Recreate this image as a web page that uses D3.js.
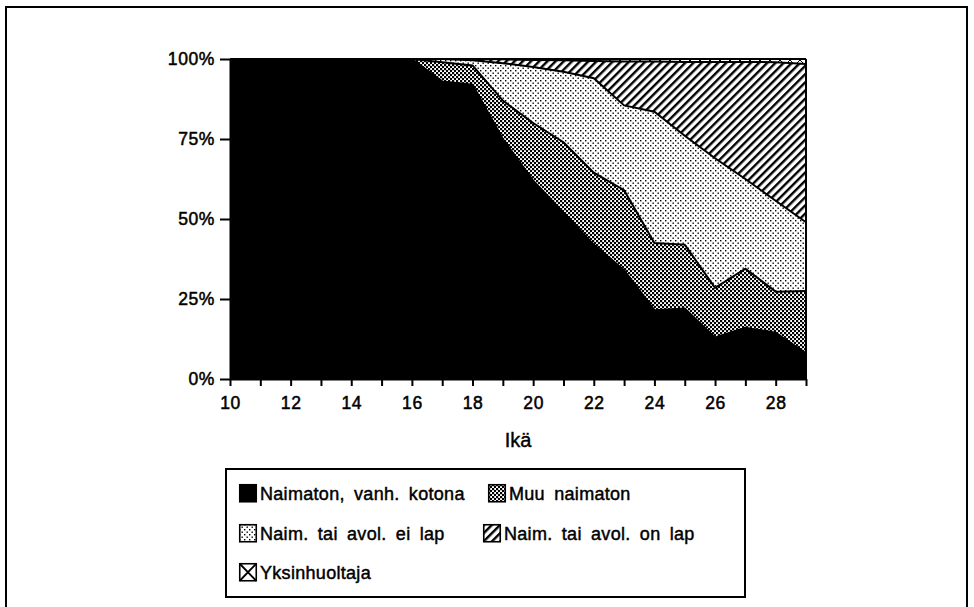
<!DOCTYPE html>
<html><head><meta charset="utf-8">
<script src="https://cdn.jsdelivr.net/npm/d3@7"></script>
<style>
html,body{margin:0;padding:0;background:#fff;}
svg{display:block;font-family:"Liberation Sans",Arial,Helvetica,sans-serif;}
</style></head>
<body>
<svg id="chart" width="974" height="607"></svg>
<script>
// ---- data ----
const ages = [10,11,12,13,14,15,16,17,18,19,20,21,22,23,24,25,26,27,28,29];
const kotona = [100,100,100,99.6,100,100,100,93,92,75,62,52,42,34,21.5,22,13,16,14.5,8];
const muu    = [0,0,0,0,0,0,0,6,6,12,18,22,22.5,25,21,20,15.5,18.5,12.8,19.5];
const eiLap  = [0,0,0,0.4,0,0,0,1,1.6,11.7,17.5,22,29.5,26.5,41,34,40.5,28,28.4,21.5];
const onLap  = [0,0,0,0,0,0,0,0,0.4,1.2,2.2,3.6,5.4,13.7,15.7,23.1,30.1,36.6,43.3,49.4];
const yksin  = [0,0,0,0,0,0,0,0,0,0.1,0.3,0.4,0.6,0.8,0.8,0.9,0.9,0.9,1.0,1.6];
const seriesNames = ["Naimaton, vanh. kotona","Muu naimaton","Naim. tai avol. ei lap","Naim. tai avol. on lap","Yksinhuoltaja"];
const yTicks = [0,25,50,75,100];
const xLabelTicks = [10,12,14,16,18,20,22,24,26,28];
const xTitle = "Ikä";

const keys = ["kotona","muu","eiLap","onLap","yksin"];
const cols = [kotona,muu,eiLap,onLap,yksin];
const table = ages.map((a,i)=>{const r={age:a}; keys.forEach((k,j)=>r[k]=cols[j][i]); return r;});

const svg = d3.select("#chart");
const defs = svg.append("defs");

// patterns
const pChk = defs.append("pattern").attr("id","pChk").attr("patternUnits","userSpaceOnUse").attr("width",4).attr("height",4);
pChk.append("rect").attr("width",4).attr("height",4).attr("fill","#fff");
pChk.append("rect").attr("x",0).attr("y",0).attr("width",2.2).attr("height",2.2).attr("fill","#000");
pChk.append("rect").attr("x",2).attr("y",2).attr("width",2.2).attr("height",2.2).attr("fill","#000");

const pDot = defs.append("pattern").attr("id","pDot").attr("patternUnits","userSpaceOnUse").attr("width",5).attr("height",5);
pDot.append("rect").attr("width",5).attr("height",5).attr("fill","#fff");
pDot.append("rect").attr("x",0).attr("y",0).attr("width",1.4).attr("height",1.4).attr("fill","#000");
pDot.append("rect").attr("x",2.5).attr("y",2.5).attr("width",1.4).attr("height",1.4).attr("fill","#000");

const pHatch = defs.append("pattern").attr("id","pHatch").attr("patternUnits","userSpaceOnUse")
  .attr("width",5.8).attr("height",5.8).attr("patternTransform","rotate(45)");
pHatch.append("rect").attr("width",5.8).attr("height",5.8).attr("fill","#fff");
pHatch.append("rect").attr("x",0).attr("y",0).attr("width",2.4).attr("height",5.8).attr("fill","#000");

const pCross = defs.append("pattern").attr("id","pCross").attr("patternUnits","userSpaceOnUse").attr("width",10).attr("height",10);
pCross.append("rect").attr("width",10).attr("height",10).attr("fill","#fff");
pCross.append("path").attr("d","M0,0L10,10M10,0L0,10").attr("stroke","#000").attr("stroke-width",1);

const fills = ["#000","url(#pChk)","url(#pDot)","url(#pHatch)","url(#pCross)"];

// frame
svg.append("rect").attr("x",6).attr("y",7).attr("width",961).attr("height",640)
  .attr("fill","none").attr("stroke","#000").attr("stroke-width",2);

const x = d3.scaleLinear().domain([10,29]).range([230,806]);
const y = d3.scaleLinear().domain([0,100]).range([379,59]);

const stack = d3.stack().keys(keys);
const stacked = stack(table);
const area = d3.area().x(d=>x(d.data.age)).y0(d=>y(d[0])).y1(d=>y(d[1]));
const topLine = d3.line().x(d=>x(d.data.age)).y(d=>y(d[1]));

const g = svg.append("g");
g.selectAll("path.area").data(stacked).join("path")
  .attr("class","area").attr("d",area).attr("fill",(d,i)=>fills[i]);
g.selectAll("path.edge").data(stacked).join("path")
  .attr("class","edge").attr("d",topLine).attr("fill","none")
  .attr("stroke","#000").attr("stroke-width",2).attr("stroke-linejoin","miter");
g.append("line").attr("x1",x(29)).attr("x2",x(29)).attr("y1",y(0)).attr("y2",y(100))
  .attr("stroke","#000").attr("stroke-width",2);

// axes
const yAxis = d3.axisLeft(y).tickValues(yTicks).tickFormat(d=>d+"%").tickSize(10).tickPadding(5).tickSizeOuter(0);
const ya = svg.append("g").attr("transform",`translate(${x(10)},0)`).call(yAxis);
const xAxis = d3.axisBottom(x).tickValues(ages).tickFormat(d=>xLabelTicks.includes(d)?d:"").tickSize(7).tickPadding(11).tickSizeOuter(0);
const xa = svg.append("g").attr("transform",`translate(0,${y(0)})`).call(xAxis);
[ya,xa].forEach(a=>{
  a.select(".domain").attr("stroke","#000").attr("stroke-width",2);
  a.selectAll(".tick line").attr("stroke","#000").attr("stroke-width",2);
  a.selectAll(".tick text").attr("fill","#000").attr("font-size",17.5)
    .attr("font-family","'Liberation Sans',Arial,sans-serif")
    .attr("stroke","#000").attr("stroke-width",0.5).attr("letter-spacing",0.6);
});

svg.append("text").attr("x",x(19.5)).attr("y",447).attr("text-anchor","middle")
  .attr("font-size",20).attr("stroke","#000").attr("stroke-width",0.4).text(xTitle);

// legend
svg.append("rect").attr("x",226).attr("y",469).attr("width",519).attr("height",128)
  .attr("fill","#fff").attr("stroke","#000").attr("stroke-width",2);
const legPos = [[239,484],[488,484],[239,524],[483,524],[239,563]];
seriesNames.forEach((name,i)=>{
  const [lx,ly] = legPos[i];
  const lg = svg.append("g").attr("transform",`translate(${lx},${ly})`);
  lg.append("rect").attr("x",0.75).attr("y",0.75).attr("width",16.5).attr("height",17)
    .attr("fill",i===4?"#fff":fills[i]).attr("stroke","#000").attr("stroke-width",1.6);
  if(i===4){
    lg.append("path").attr("d","M0.75,0.75L17.25,17.75M17.25,0.75L0.75,17.75").attr("stroke","#000").attr("stroke-width",1.8);
  }
  lg.append("text").attr("x",21).attr("y",15.5).attr("font-size",18)
    .attr("stroke","#000").attr("stroke-width",0.45).attr("letter-spacing",0.3)
    .attr("word-spacing",4).text(name);
});
</script>
</body></html>
